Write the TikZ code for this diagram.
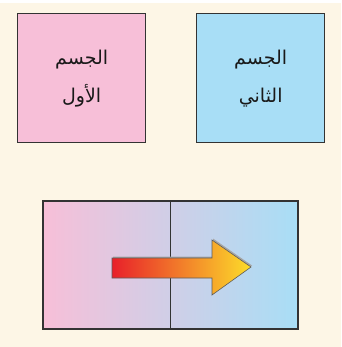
\documentclass[tikz,border=0pt]{standalone}
\usepackage{fontspec}
\newfontfamily\arabicfont[Script=Arabic]{DejaVu Sans}
\TeXXeTstate=1
\definecolor{cream}{HTML}{FDF6E6}
\definecolor{bodypink}{HTML}{F7BFD8}
\definecolor{bodyblue}{HTML}{A8DEF6}
\definecolor{hotred}{HTML}{E8202A}
\definecolor{warmyellow}{HTML}{FCDD2A}
\definecolor{edgegray}{HTML}{333333}

\begin{document}
\begin{tikzpicture}[x=1pt,y=-1pt,font=\arabicfont\fontsize{19}{38}\selectfont,
  body/.style={draw=edgegray,line width=1.4pt,minimum width=128pt,minimum height=129pt,
    inner sep=0pt,align=center,anchor=north west,text=black!90}]
  \fill[white] (0,0) rectangle (341,347);
  \fill[cream] (0,3) rectangle (341,347);
  % the two bodies apart
  \node[body,fill=bodypink] (first) at (17,13) {\beginR الجسم\endR\\\beginR الأول\endR};
  \node[body,fill=bodyblue] (second) at (196,13) {\beginR الجسم\endR\\\beginR الثاني\endR};
  % the two bodies in contact
  \shade[left color=bodypink,right color=bodyblue] (43,201) rectangle (298,329);
  \coordinate (contact top) at (170,201);
  \coordinate (contact bottom) at (170,329);
  \draw[edgegray,line width=1.4pt] (43,201) rectangle (298,329);
  \draw[edgegray,line width=0.9pt] (contact top) -- (contact bottom);
  % heat flow
  \fill[black!35,xshift=1pt,yshift=1.5pt] (112,258) -- (212,258) -- (212,240) -- (251,267)
    -- (212,295) -- (212,278) -- (112,278) -- cycle;
  \shade[left color=hotred,right color=warmyellow,draw=edgegray!80,line width=0.6pt]
    (112,258) -- (212,258) -- (212,240) -- (251,267) -- (212,295) -- (212,278)
    -- (112,278) -- cycle;
\end{tikzpicture}
\end{document}
